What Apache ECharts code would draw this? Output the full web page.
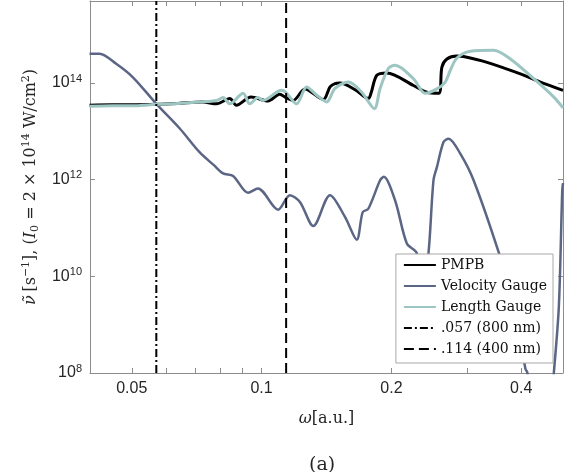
<!DOCTYPE html>
<html><head><meta charset="utf-8">
<script src="https://cdn.jsdelivr.net/npm/echarts@6/dist/echarts.min.js"></script>
<style>html,body{margin:0;padding:0;background:#fff}#c{width:573px;height:472px}</style>
</head><body><div id="c"></div>
<script>
// ---- data (omega in a.u., rate in s^-1) ----
const omegaPMPB = [0.0399,0.045,0.05,0.057,0.064,0.073,0.0786,0.0844,0.0874,0.0945,0.1034,0.1102,0.1138,0.1184,0.126,0.139,0.1441,0.148,0.152,0.165,0.1768,0.1795,0.185,0.1952,0.225,0.2417,0.2575,0.2619,0.269,0.2838,0.294,0.3333,0.3983,0.4433,0.5];
const ratePMPB  = [3.47e13,3.55e13,3.55e13,3.63e13,3.80e13,4.07e13,3.72e13,4.79e13,3.47e13,5.13e13,4.27e13,5.89e13,5.01e13,4.37e13,7.59e13,4.57e13,8.32e13,9.77e13,1.00e14,7.24e13,4.79e13,6.31e13,1.45e14,1.62e14,8.91e13,6.46e13,6.17e13,2.14e14,3.16e14,3.63e14,3.55e14,2.69e14,1.55e14,1.05e14,7.08e13];

const omegaVelocity = [0.0399,0.0421,0.046,0.0503,0.057,0.0646,0.0718,0.0775,0.0814,0.0859,0.093,0.0981,0.1092,0.1163,0.1227,0.1318,0.1441,0.1561,0.1662,0.1716,0.1768,0.1883,0.192,0.204,0.2172,0.2291,0.2357,0.2438,0.2504,0.255,0.2642,0.2714,0.2889,0.3102,0.3546,0.385,0.4091,0.4135,0.43,0.46,0.4761,0.489,0.498,0.5];
const rateVelocity  = [4.07e14,4.07e14,2.51e14,1.32e14,3.72e13,1.15e13,3.72e12,2.00e12,1.35e12,1.20e12,5.37e11,6.61e11,2.40e11,4.79e11,3.47e11,1.10e11,4.79e11,1.70e11,5.75e10,2.14e11,2.51e11,9.77e11,1.15e12,3.72e11,4.79e10,3.02e10,3.98e9,3.02e10,9.77e11,1.82e12,6.03e12,7.08e12,3.47e12,9.77e11,3.16e10,2.51e9,1.23e8,1.00e8,3.16e6,3.16e6,1.00e8,2.34e9,6.03e11,8.51e11];

const omegaLength = [0.0399,0.045,0.05,0.057,0.064,0.0718,0.0786,0.0814,0.0844,0.0906,0.0939,0.0981,0.1008,0.1112,0.1138,0.1206,0.1272,0.1342,0.1416,0.148,0.1589,0.1707,0.1826,0.1883,0.1968,0.204,0.225,0.2395,0.255,0.2666,0.2738,0.2838,0.3048,0.3452,0.3776,0.4277,0.4761,0.5];
const rateLength  = [3.31e13,3.39e13,3.39e13,3.63e13,3.80e13,4.07e13,4.37e13,5.01e13,3.72e13,6.17e13,3.72e13,5.01e13,4.37e13,7.08e13,6.46e13,3.72e13,8.32e13,5.62e13,4.07e13,7.76e13,1.05e14,6.46e13,2.95e13,7.76e13,2.00e14,2.34e14,1.23e14,6.17e13,7.59e13,1.05e14,1.82e14,3.31e14,4.57e14,4.79e14,3.16e14,1.23e14,5.13e13,3.09e13];

const markerOmega = [0.057, 0.114];
const markerNames = ['.057 (800 nm)', '.114 (400 nm)'];
const seriesNames = ['PMPB', 'Velocity Gauge', 'Length Gauge'];

const xMin = 0.04, xMax = 0.5;
const yMin = 1e8, yMax = 5e15;
const xLabelValues = [0.05, 0.1, 0.2, 0.4];
const xTickValues = [0.05, 0.06, 0.07, 0.08, 0.09, 0.1, 0.2, 0.3, 0.4];
const yTickValues = [1e8, 1e10, 1e12, 1e14];

// ---- styling ----
const AX = '#8c8c8c';
const SERIF = 'DejaVu Serif';
const SANS = 'Liberation Sans';
const TXT = '#262626';

function pairs(xs, ys) { return xs.map((x, i) => [x, ys[i]]); }

const chart = echarts.init(document.getElementById('c'), null, {renderer: 'canvas'});

const tickCommon = {show: true, inside: true, length: 5, lineStyle: {color: AX, width: 1}};
const lineCommon = {show: true, onZero: false, lineStyle: {color: AX, width: 1}};

const yName = '{i|ν̃} {n|[s}{sup|−1}{n|], (}{i|I}{sub|0}{n| = 2 × 10}{sup|14}{n| W/cm}{sup|2}{n|)}';
const nameRich = {
  n:   {fontFamily: SERIF, fontSize: 16, lineHeight: 20, color: TXT},
  i:   {fontFamily: SERIF, fontSize: 16, lineHeight: 20, fontStyle: 'italic', color: TXT},
  sup: {fontFamily: SERIF, fontSize: 11, lineHeight: 10, verticalAlign: 'top', color: TXT},
  sub: {fontFamily: SERIF, fontSize: 11, lineHeight: 10, verticalAlign: 'bottom', color: TXT}
};

const option = {
  animation: false,
  textStyle: {fontFamily: SERIF},
  title: {
    text: '(a)', left: 304, top: 451,
    textStyle: {fontFamily: SERIF, fontSize: 19, fontWeight: 'normal', color: TXT}
  },
  grid: {left: 90, right: 10, top: 1, bottom: 99, containLabel: false},
  legend: {
    orient: 'vertical', right: 20, bottom: 109,
    backgroundColor: '#fff', borderColor: '#a8a8a8', borderWidth: 1,
    padding: [4, 6, 7, 7], itemGap: 7, itemWidth: 32, itemHeight: 14,
    itemStyle: {opacity: 0},
    textStyle: {fontFamily: SERIF, fontSize: 14, color: '#111'},
    data: seriesNames.concat(markerNames)
  },
  xAxis: [
    {
      type: 'log', min: xMin, max: xMax, position: 'bottom',
      axisLine: lineCommon,
      axisTick: Object.assign({customValues: xTickValues}, tickCommon),
      axisLabel: {customValues: xLabelValues, formatter: v => String(v), fontFamily: SANS, fontSize: 16, color: TXT, margin: 8},
      splitLine: {show: false}, minorTick: {show: false},
      name: '{i|ω}{n|[a.u.]}', nameLocation: 'middle', nameGap: 38,
      nameTextStyle: {rich: {
        n: {fontFamily: SERIF, fontSize: 16, color: TXT},
        i: {fontFamily: SERIF, fontSize: 16, fontStyle: 'italic', color: TXT}
      }}
    },
    {
      type: 'log', min: xMin, max: xMax, position: 'top',
      axisLine: lineCommon,
      axisTick: Object.assign({customValues: xTickValues}, tickCommon),
      axisLabel: {show: false}, splitLine: {show: false}
    }
  ],
  yAxis: [
    {
      type: 'log', min: yMin, max: yMax, position: 'left',
      axisLine: lineCommon,
      axisTick: Object.assign({customValues: yTickValues}, tickCommon),
      axisLabel: {
        customValues: yTickValues, margin: 8,
        formatter: v => '{b|10}{sup|' + Math.round(Math.log10(v)) + '}',
        rich: {
          b: {fontFamily: SANS, fontSize: 16, lineHeight: 20, color: TXT},
          sup: {fontFamily: SANS, fontSize: 11, lineHeight: 11, verticalAlign: 'top', color: TXT}
        }
      },
      splitLine: {show: false},
      name: yName, nameLocation: 'middle', nameGap: 45,
      nameTextStyle: {rich: nameRich}
    },
    {
      type: 'log', min: yMin, max: yMax, position: 'right',
      axisLine: lineCommon,
      axisTick: Object.assign({customValues: yTickValues}, tickCommon),
      axisLabel: {show: false}, splitLine: {show: false}
    }
  ],
  series: [
    {name: seriesNames[0], type: 'line', data: pairs(omegaPMPB, ratePMPB), symbol: 'none', smooth: 0.3,
     lineStyle: {color: '#000000', width: 3}, itemStyle: {color: '#000000'}},
    {name: seriesNames[1], type: 'line', data: pairs(omegaVelocity, rateVelocity), symbol: 'none', smooth: 0.3,
     lineStyle: {color: '#5b6684', width: 2.5}, itemStyle: {color: '#5b6684'}},
    {name: seriesNames[2], type: 'line', data: pairs(omegaLength, rateLength), symbol: 'none', smooth: 0.3,
     lineStyle: {color: '#9dc6c3', width: 3}, itemStyle: {color: '#9dc6c3'}},
    {name: markerNames[0], type: 'line', data: [[markerOmega[0], yMin], [markerOmega[0], yMax]], symbol: 'none',
     lineStyle: {color: '#000000', width: 2, type: [8, 3, 2, 3]}, itemStyle: {color: '#000000'}},
    {name: markerNames[1], type: 'line', data: [[markerOmega[1], yMin], [markerOmega[1], yMax]], symbol: 'none',
     lineStyle: {color: '#000000', width: 2, type: [10, 5]}, itemStyle: {color: '#000000'}}
  ]
};
chart.setOption(option);
</script>
</body></html>
